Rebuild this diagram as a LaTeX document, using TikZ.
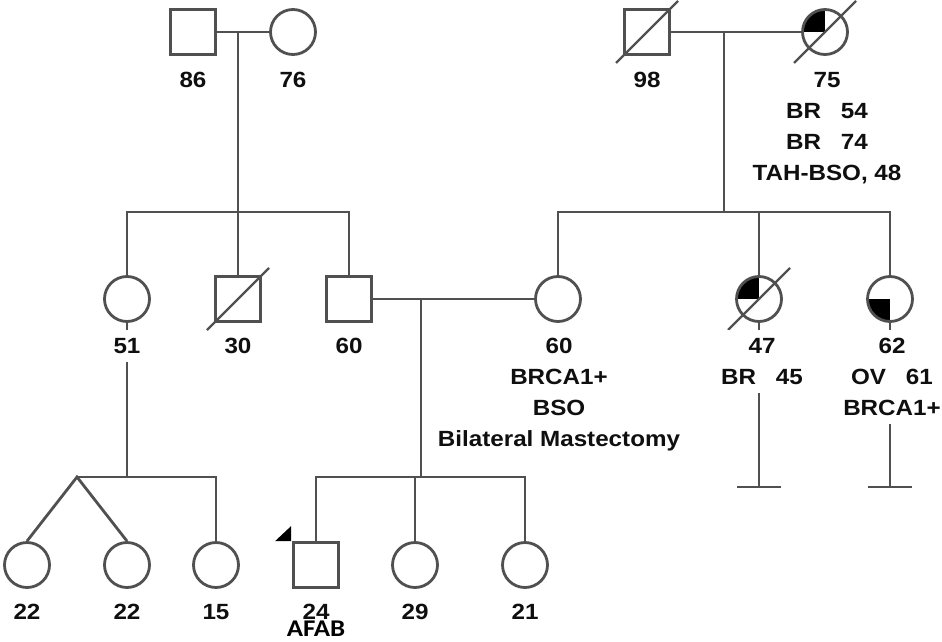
\documentclass[tikz,border=0pt]{standalone}
\usepackage{fontspec}
\setmainfont{Liberation Sans}[FakeStretch=1.1]
\newfontfamily\afabfont{Carlito}[FakeStretch=1.12]
\definecolor{lc}{RGB}{80,80,80}
\definecolor{txt}{RGB}{15,15,15}
\tikzset{
  ln/.style={draw=lc, line width=2.8pt},
  male/.style={rectangle, draw=lc, line width=2.8pt, minimum size=45pt, inner sep=0pt, fill=white},
  female/.style={circle, draw=lc, line width=2.8pt, minimum size=45pt, inner sep=0pt, fill=white},
  fillTL/.style={path picture={\fill[black] (path picture bounding box.center) rectangle (path picture bounding box.north west);}},
  fillBL/.style={path picture={\fill[black] (path picture bounding box.center) rectangle (path picture bounding box.south west);}},
  lbl/.style={font=\fontsize{22}{31}\selectfont\bfseries, text=txt, align=center, inner xsep=2pt, inner ysep=8pt, anchor=north},
  lblb/.style={lbl, inner ysep=1pt},
  cut/.style={fill=white},
}
\newcommand{\gapBR}{\hspace{0.9em}}
\begin{document}
\begin{tikzpicture}[x=1pt,y=-1pt]
\useasboundingbox (0,0) rectangle (942,642);
% ---------- Generation I ----------
\node[male] (m86) at (193,32) {};
\node[female] (f76) at (293,32) {};
\node[male] (m98) at (647,32) {};
\node[female, fillTL] (f75) at (825,32) {};
% ---------- Generation II ----------
\node[female] (f51) at (127,299) {};
\node[male] (m30) at (238,299) {};
\node[male] (m60) at (349,299) {};
\node[female] (f60) at (558,299) {};
\node[female, fillTL] (f47) at (759,299) {};
\node[female, fillBL] (f62) at (890,299) {};
% ---------- Generation III ----------
\node[female] (d22a) at (27,565) {};
\node[female] (d22b) at (127,565) {};
\node[female] (d15) at (216,565) {};
\node[male] (p24) at (316,565) {};
\node[female] (d29) at (415,565) {};
\node[female] (d21) at (525,565) {};
% ---------- coordinates ----------
\coordinate (c1) at (238,32);
\coordinate (s1) at (238,212);
\coordinate (c2) at (724,32);
\coordinate (s2) at (724,212);
\coordinate (c3) at (421,299);
\coordinate (s3) at (421,477);
\coordinate (tw) at (77,477);
\coordinate (n47) at (759,487);
\coordinate (n62) at (890,487);
% ---------- lines ----------
\draw[ln] (m86) -- (f76);
\draw[ln] (c1) -- (s1);
\draw[ln] (f51.north) |- (s1) -| (m60.north);
\draw[ln] (m30.north) -- (m30.north |- s1);
\draw[ln] (m98) -- (f75);
\draw[ln] (c2) -- (s2);
\draw[ln] (f60.north) |- (s2) -| (f62.north);
\draw[ln] (f47.north) -- (f47.north |- s2);
\draw[ln] (m60) -- (f60);
\draw[ln] (c3) -- (s3);
\draw[ln] (p24.north) |- (s3) -| (d21.north);
\draw[ln] (d29.north) -- (d29.north |- s3);
\draw[ln] (f51.south) -- (f51.south |- tw);
\draw[ln] (tw) -| (d15.north);
\draw[ln] (d22a.north) -- (tw) -- (d22b.north);
\draw[ln] (f47.south) -- (n47);
\draw[ln] ([xshift=-22pt]n47) -- ([xshift=22pt]n47);
\draw[ln] (f62.south) -- (n62);
\draw[ln] ([xshift=-22pt]n62) -- ([xshift=22pt]n62);
% ---------- deceased slashes ----------
\draw[draw=lc, line width=2.2pt] ([shift={(-31,31)}]m98.center) -- ([shift={(31,-31)}]m98.center);
\draw[draw=lc, line width=2.2pt] ([shift={(-31,31)}]f75.center) -- ([shift={(31,-31)}]f75.center);
\draw[draw=lc, line width=2.2pt] ([shift={(-31,31)}]m30.center) -- ([shift={(31,-31)}]m30.center);
\draw[draw=lc, line width=2.2pt] ([shift={(-31,31)}]f47.center) -- ([shift={(31,-31)}]f47.center);
% ---------- proband arrow ----------
\fill[black] ([xshift=-1pt]p24.north west) -- ([xshift=-1pt,yshift=15pt]p24.north west) -- ([xshift=-17pt]p24.north west) -- cycle;
% ---------- labels ----------
\node[lbl] (l86) at (193,64) {86};
\node[lbl] (l76) at (293,64) {76};
\node[lbl] (l98) at (647,64) {98};
\node[lbl] (l75) at (827,64) {75\\BR\gapBR 54\\BR\gapBR 74\\TAH-BSO, 48};
\node[lbl, cut] (l51) at (127,330) {51};
\node[lbl] (l30) at (238,330) {30};
\node[lbl] (l60m) at (349,330) {60};
\node[lbl] (l60f) at (559,330) {60\\BRCA1+\\BSO\\Bilateral Mastectomy};
\node[lbl, cut] (l47) at (762,330) {47\\BR\gapBR 45};
\node[lbl, cut] (l62) at (892,330) {62\\OV\gapBR 61\\BRCA1+};
\node[lblb] (l22a) at (27,603) {22};
\node[lblb] (l22b) at (127,603) {22};
\node[lblb] (l15) at (216,603) {15};
\node[lblb] (l24) at (316,603) {24};
\node[lblb] (l29) at (415,603) {29};
\node[lblb] (l21) at (525,603) {21};
\node[font=\afabfont\fontsize{24}{24}\selectfont\bfseries, text=black, inner sep=0pt, anchor=base] (afab) at (316,636) {AFAB};
\end{tikzpicture}
\end{document}
